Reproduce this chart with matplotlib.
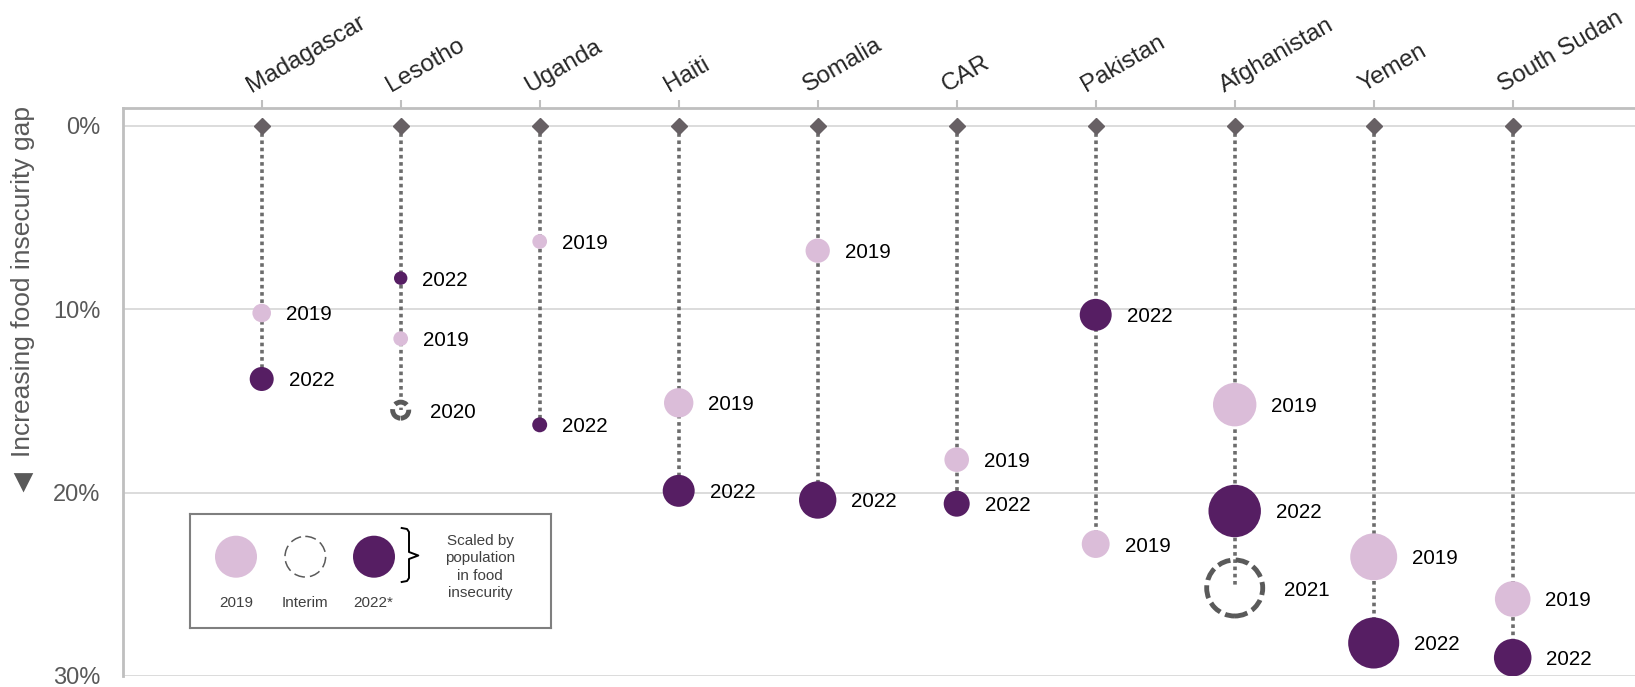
import numpy as np
import matplotlib
matplotlib.use('Agg')
import matplotlib.pyplot as plt
from matplotlib.patches import Circle
from matplotlib.transforms import ScaledTranslation

plt.rcParams['font.family'] = ['Liberation Sans', 'DejaVu Sans']

# ---------------- data ----------------
countries = ['Madagascar', 'Lesotho', 'Uganda', 'Haiti', 'Somalia', 'CAR',
             'Pakistan', 'Afghanistan', 'Yemen', 'South Sudan']
gap_2019 = [10.2, 11.6, 6.3, 15.1, 6.8, 18.2, 22.8, 15.2, 23.5, 25.8]
gap_2022 = [13.8, 8.3, 16.3, 19.9, 20.4, 20.6, 10.3, 21.0, 28.2, 29.0]
# population in food insecurity (millions)
pop_2019 = [2.4, 1.5, 1.5, 6.0, 4.1, 4.2, 5.4, 13.1, 15.3, 8.8]
pop_2022 = [4.0, 1.25, 1.55, 7.1, 9.7, 4.7, 7.1, 19.1, 18.1, 9.8]
interim_country = ['Lesotho', 'Afghanistan']
interim_year = ['2020', '2021']
interim_gap = [15.5, 25.2]
interim_pop = [1.8, 21.8]
yticks = [0, 10, 20, 30]
ytick_labels = ['0%', '10%', '20%', '30%']

LIGHT = '#DBBDD9'
DARK = '#561E63'
GREY_LINE = '#6C6C6C'
GREY_DIAMOND = '#676064'
INTERIM = '#5A5A5A'

DPI = 100
PX2PT = 72.0 / DPI
R_K = 6.0  # px radius per sqrt(million)


def radius_px(p):
    return R_K * np.sqrt(np.asarray(p, dtype=float))


def size_pt2(p):
    return (2 * radius_px(p) * PX2PT) ** 2


fig = plt.figure(figsize=(16.35, 6.87), dpi=DPI)
W, H = 1635.0, 687.0
left_px, top_px, bot_px = 122.7, 108.0, 676.0
spacing_px = 139.0
ax = fig.add_axes([left_px / W, 1 - bot_px / H, 1 - left_px / W, (bot_px - top_px) / H])

x = np.arange(1, len(countries) + 1)
ax.set_xlim(0, (W - left_px) / spacing_px)
px_per_pct = (bot_px - 126.0) / 30.0
ax.set_ylim(30, -(126.0 - top_px) / px_per_pct)

# grid
ax.set_yticks(yticks)
ax.set_yticklabels(ytick_labels)
ax.yaxis.grid(True, color='#D9D9D9', lw=1.3)
ax.set_axisbelow(True)
ax.tick_params(axis='y', length=0, pad=16, labelsize=17, labelcolor='#595959')

# top axis
ax.xaxis.tick_top()
ax.set_xticks(x)
ax.set_xticklabels(countries, rotation=30, ha='left', va='baseline',
                   rotation_mode='anchor', fontsize=17.5, color='#262626')
ax.tick_params(axis='x', direction='out', length=5.8, width=1.5, color='#BFBFBF', pad=5.5)
for lab in ax.get_xticklabels():
    lab.set_transform(lab.get_transform() + ScaledTranslation(-10 / DPI, 0, fig.dpi_scale_trans))

for side in ['right', 'bottom']:
    ax.spines[side].set_visible(False)
for side in ['top', 'left']:
    ax.spines[side].set_color('#BFBFBF')
    ax.spines[side].set_linewidth(2.0)

# dotted stems
idx = {c: i for i, c in enumerate(countries)}
for i, c in enumerate(countries):
    vals = [gap_2019[i], gap_2022[i]]
    for ic, g in zip(interim_country, interim_gap):
        if ic == c:
            vals.append(g)
    ax.plot([x[i], x[i]], [0, max(vals)], color=GREY_LINE, lw=2.6,
            ls=(0, (1, 1)), dash_capstyle='butt', zorder=2)

ax.plot(x, np.zeros(len(x)), 'D', ms=8.3, color=GREY_DIAMOND, zorder=3, clip_on=False)

# bubbles
ax.scatter(x, gap_2019, s=size_pt2(pop_2019), color=LIGHT, linewidths=0, zorder=4)
ax.scatter(x, gap_2022, s=size_pt2(pop_2022), color=DARK, linewidths=0, zorder=4)
xi = [x[idx[c]] for c in interim_country]
ax.scatter(xi, interim_gap, s=size_pt2(interim_pop), facecolors='none',
           edgecolors=INTERIM, linewidths=3.5, linestyle=(0, (2.7, 1.1)), zorder=4)

# year labels
def year_label(xv, yv, text, off_px):
    ax.annotate(text, (xv, yv), xytext=(off_px * PX2PT, 0), textcoords='offset points',
                ha='left', va='center_baseline', fontsize=14.8, color='black', zorder=5)

r19 = radius_px(pop_2019)
r22 = radius_px(pop_2022)
for i in range(len(countries)):
    year_label(x[i], gap_2019[i], '2019', r19[i] + 15)
    year_label(x[i], gap_2022[i], '2022', r22[i] + 15)
ri = radius_px(interim_pop)
for j in range(len(interim_country)):
    year_label(xi[j], interim_gap[j], interim_year[j], ri[j] + 2.5 + 19)

# y axis title with a separate, larger arrow glyph
ax.set_ylabel('Increasing food insecurity gap', fontsize=19, color='#595959', va='center')
ax.yaxis.set_label_coords((23 - left_px) / (W - left_px), (bot_px - 281.5) / (bot_px - top_px))
fig.text(23 / W, 1 - 484 / H, '\u25BC', fontsize=24, color='#595959', ha='center', va='center')

# legend box
lx0, lx1, ly0, ly1 = 190.0, 551.0, 514.0, 628.0
lax = fig.add_axes([lx0 / W, 1 - ly1 / H, (lx1 - lx0) / W, (ly1 - ly0) / H])
lax.set_xlim(lx0, lx1)
lax.set_ylim(ly1, ly0)
lax.set_xticks([])
lax.set_yticks([])
for sp in lax.spines.values():
    sp.set_color('#7F7F7F')
    sp.set_linewidth(1.5)
cy = 556.7
lax.add_patch(Circle((236, cy), 21, color=LIGHT, lw=0))
lax.add_patch(Circle((305.3, cy), 20.3, fill=False, ec=INTERIM, lw=1.1, ls=(0, (7.2, 3.3))))
lax.add_patch(Circle((374, cy), 21, color=DARK, lw=0))
for xx, t in zip([236, 305.3, 373], ['2019', 'Interim', '2022*']):
    lax.text(xx, 603, t, ha='center', va='center', fontsize=11, color='#404040')
lax.plot([401.7, 407, 409, 409, 418.3, 409, 409, 407, 401.7],
         [528, 529, 532, 552, 555.5, 559, 578, 581, 582], color='black', lw=1.4,
         solid_joinstyle='round')
lax.text(480, 567, 'Scaled by\npopulation\nin food\ninsecurity', ha='center', va='center',
         fontsize=11, color='#404040', linespacing=1.3)

fig.savefig('out.png', dpi=DPI)
